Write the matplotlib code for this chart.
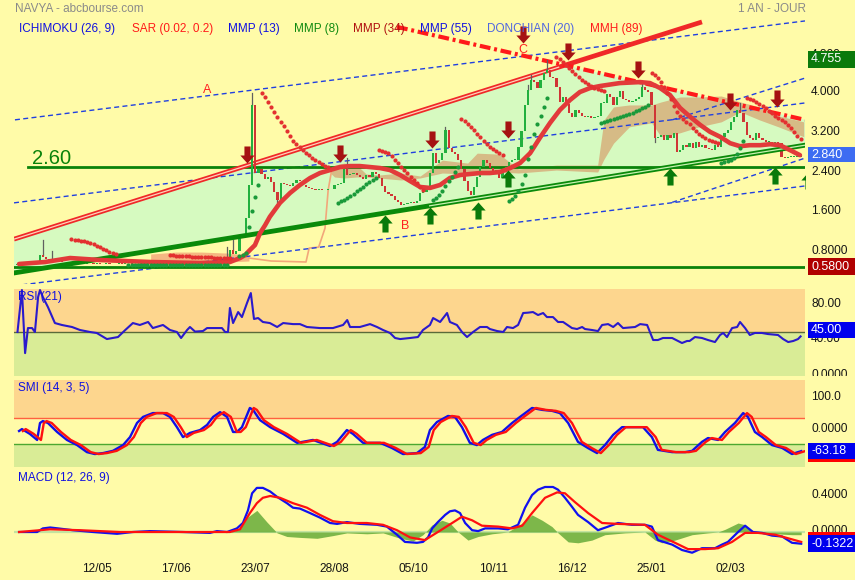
import numpy as np
import matplotlib
matplotlib.use("Agg")
import matplotlib.pyplot as plt
from matplotlib.path import Path
from matplotlib.patches import Rectangle, Polygon
from matplotlib.transforms import Bbox, ScaledTranslation, blended_transform_factory

plt.rcParams['font.family'] = ['Liberation Sans', 'DejaVu Sans']

# ---------------- data ----------------
CLOSE = [0.62, 0.64, 0.66, 0.63, 0.66, 0.68, 0.70, 0.82, 0.78, 0.74,
         0.72, 0.74, 0.71, 0.69, 0.68, 0.67, 0.68, 0.66, 0.67, 0.65,
         0.66, 0.64, 0.65, 0.66, 0.64, 0.65, 0.63, 0.64, 0.65, 0.64,
         0.63, 0.64, 0.65, 0.64, 0.65, 0.66, 0.64, 0.63, 0.64, 0.65,
         0.64, 0.63, 0.64, 0.66, 0.65, 0.64, 0.63, 0.64, 0.65, 0.66,
         0.64, 0.63, 0.64, 0.65, 0.64, 0.63, 0.64, 0.65, 0.64, 0.65,
         0.66, 0.65, 0.64, 0.66, 0.67, 0.70, 0.78, 0.92, 0.85, 0.90,
         1.16, 1.20, 1.57, 2.23, 3.84, 2.47, 2.55, 2.45, 2.35, 2.40,
         2.28, 2.09, 1.93, 2.27, 2.25, 2.23, 2.20, 2.27, 2.33, 2.30,
         2.22, 2.18, 2.17, 2.15, 2.13, 2.15, 2.12, 2.13, 2.14, 2.15,
         2.22, 2.25, 2.27, 2.55, 2.43, 2.45, 2.47, 2.43, 2.40, 2.35,
         2.43, 2.40, 2.49, 2.45, 2.37, 2.20, 2.09, 2.05, 2.00, 1.93,
         1.88, 1.83, 1.85, 1.87, 1.89, 1.87, 1.90, 2.07, 2.09, 2.15,
         2.47, 2.87, 2.67, 2.73, 2.87, 3.34, 2.97, 2.89, 2.85, 2.73,
         2.55, 2.30, 2.10, 2.03, 2.19, 2.39, 2.59, 2.73, 2.67, 2.57,
         2.47, 2.53, 2.37, 2.50, 2.59, 2.69, 2.73, 2.73, 2.99, 3.32,
         3.84, 4.14, 4.34, 4.30, 4.18, 4.34, 4.48, 4.54, 4.40, 4.38,
         4.20, 3.90, 4.00, 3.85, 3.68, 3.60, 3.74, 3.68, 3.62, 3.60,
         3.62, 3.58, 3.60, 3.62, 3.88, 3.88, 4.06, 4.00, 3.84, 4.00,
         4.12, 3.95, 3.94, 3.90, 3.92, 3.96, 4.00, 4.20, 4.14, 4.10,
         3.84, 3.18, 3.20, 3.24, 3.13, 3.24, 3.18, 3.28, 2.89, 2.93,
         3.03, 2.99, 3.07, 2.97, 3.09, 2.99, 3.03, 2.97, 2.95, 2.93,
         3.03, 2.99, 3.20, 3.28, 3.34, 3.50, 3.60, 3.74, 3.68, 3.50,
         3.24, 3.18, 3.13, 3.28, 3.18, 3.13, 3.09, 3.09, 3.07, 3.09,
         3.07, 2.80, 2.77, 2.79, 2.79, 2.79, 2.79, 2.84]
HIGH_WICKS = {8: 1.12, 11: 0.90, 66: 0.98, 68: 1.12, 74: 4.08, 104: 2.77,
              135: 3.40, 161: 4.25, 162: 4.45, 167: 4.74, 197: 4.30, 228: 3.88}
LOW_WICKS = {82: 1.89, 201: 3.10}

DATE_POS = [25, 50, 75, 100, 125, 150, 175, 200, 225]
DATE_LABELS = ['12/05', '17/06', '23/07', '28/08', '05/10', '10/11', '16/12', '25/01', '02/03']

PRICE_TICKS = [4.8, 4.0, 3.2, 2.4, 1.6, 0.8]
PRICE_TICK_LABELS = ['4.800', '4.000', '3.200', '2.400', '1.600', '0.8000']

# MMH (89) thick red curve: (bar, value)
MMH_POINTS = [(0.5, 0.64), (8.7, 0.68), (16.6, 0.76), (26, 0.72), (41.8, 0.68), (57.6, 0.66),
              (67, 0.68), (70.2, 0.76), (71.8, 0.82), (73.3, 0.92), (74.9, 1.02), (76.5, 1.26),
              (78.1, 1.42), (79.6, 1.59), (82.8, 1.87), (86, 2.07), (89.1, 2.23), (92.3, 2.37),
              (95.4, 2.47), (98.6, 2.53), (101.7, 2.59), (104.9, 2.61), (108, 2.61), (111.2, 2.59),
              (114.4, 2.57), (117.5, 2.53), (120.7, 2.43), (123.8, 2.31), (127, 2.19), (130.1, 2.17),
              (133.3, 2.23), (136.4, 2.37), (139.6, 2.43), (142.7, 2.45), (145.9, 2.47), (149, 2.47),
              (152.2, 2.49), (155.4, 2.57), (158.5, 2.67), (161.7, 2.87), (164.8, 3.18), (168, 3.48),
              (171.1, 3.74), (174.3, 3.94), (177.4, 4.10), (180.6, 4.18), (183.7, 4.22), (190, 4.28),
              (196.4, 4.30), (199.5, 4.28), (202.7, 4.18), (205.8, 4.04), (209, 3.78), (212.2, 3.60),
              (215.3, 3.44), (218.4, 3.30), (221.6, 3.20), (224.8, 3.07), (227.9, 3.01), (231, 3.03),
              (234.3, 3.03), (237.4, 3.05), (240.5, 3.03), (243.7, 2.93), (246.8, 2.83)]

# Parabolic SAR dots: (first bar, values)
SAR_RED = [
    (17, [1.14, 1.13, 1.12, 1.11, 1.10, 1.08, 1.06, 1.04, 1.01, 0.98, 0.95, 0.92, 0.89, 0.86, 0.84]),
    (48, [0.82, 0.82, 0.81, 0.81, 0.80, 0.80, 0.80, 0.79, 0.79, 0.79, 0.78, 0.78, 0.78, 0.78,
          0.77, 0.77, 0.77, 0.77, 0.76, 0.76]),
    (77, [4.08, 4.00, 3.90, 3.80, 3.70, 3.60, 3.50, 3.42, 3.32, 3.22, 3.12, 3.05, 3.00, 2.94,
          2.88, 2.83, 2.77, 2.73, 2.69, 2.65, 2.62, 2.59]),
    (114, [2.93, 2.92, 2.90, 2.87, 2.81, 2.74, 2.67, 2.60, 2.53, 2.47, 2.40, 2.33, 2.26, 2.19, 2.12]),
    (140, [3.56, 3.52, 3.46, 3.40, 3.33, 3.26, 3.19, 3.12, 3.06, 3.00, 2.95, 2.91, 2.87, 2.84]),
    (170, [4.80, 4.76, 4.70, 4.64, 4.58, 4.52, 4.46, 4.40, 4.35, 4.30, 4.26, 4.22, 4.19, 4.16,
           4.14, 4.12]),
    (200, [4.48, 4.44, 4.38, 4.30, 4.20, 4.08, 3.95, 3.82, 3.70, 3.62, 3.56, 3.50, 3.45, 3.38,
           3.32, 3.26, 3.21, 3.17, 3.14, 3.11, 3.09, 3.07]),
    (230, [3.98, 3.96, 3.93, 3.90, 3.86, 3.82, 3.77, 3.72, 3.67, 3.62, 3.58, 3.54, 3.49, 3.44,
           3.37, 3.30, 3.22, 3.15]),
]
SAR_GREEN = [
    (35, [0.61, 0.61, 0.62, 0.61, 0.61, 0.62, 0.61, 0.61, 0.62, 0.61, 0.61, 0.62, 0.61, 0.61,
          0.62, 0.61, 0.61, 0.62, 0.61, 0.61, 0.62, 0.61, 0.61, 0.62, 0.61, 0.61, 0.62, 0.61,
          0.61, 0.62, 0.61, 0.62]),
    (70, [0.80, 0.82, 0.86, 1.39, 1.71, 1.99, 2.23]),
    (101, [1.87, 1.90, 1.93, 1.97, 2.01, 2.05, 2.10, 2.14, 2.19, 2.24, 2.29, 2.33, 2.37]),
    (131, [1.93, 1.97, 2.03, 2.10, 2.20, 2.30, 2.40, 2.50, 2.60]),
    (155, [1.91, 1.95, 2.01, 2.10, 2.25, 2.43, 2.75, 3.00, 3.25, 3.45, 3.62, 3.80, 3.98]),
    (184, [3.48, 3.50, 3.52, 3.54, 3.56, 3.58, 3.60, 3.62, 3.64, 3.66, 3.68, 3.71, 3.74, 3.77,
           3.80, 3.84]),
    (222, [2.67, 2.69, 2.71, 2.73, 2.77, 2.85, 2.97, 3.12]),
]

# Ichimoku cloud
KUMO_LOW_IDX = [42, 50, 58, 66, 73]
KUMO_LOW_TOP = [0.84, 0.88, 0.88, 0.86, 0.82]
KUMO_LOW_BOT = [0.70, 0.68, 0.68, 0.68, 0.70]
SENKOU_LINE = [(73, 0.76), (80, 0.70), (91, 0.68), (92, 0.96), (95, 0.98), (97, 1.36), (98, 2.13), (99, 2.49)]
KUMO_IDX = [99, 100, 103, 107, 110, 114, 121, 127, 134, 142, 145, 152, 158, 170, 183, 185, 188,
            193, 200, 203, 209, 215, 222, 228, 234, 240, 248]
KUMO_TOP = [2.49, 2.63, 2.67, 2.63, 2.45, 2.43, 2.47, 2.41, 2.73, 2.67, 2.87, 2.85, 2.55, 2.63,
            2.63, 3.54, 3.80, 3.84, 3.84, 3.90, 4.00, 4.00, 4.02, 3.90, 3.80, 3.62, 3.50]
KUMO_BOT = [2.45, 2.39, 2.37, 2.39, 2.39, 2.37, 2.33, 2.37, 2.47, 2.45, 2.45, 2.49, 2.47, 2.53,
            2.49, 2.75, 3.07, 3.40, 3.48, 3.20, 3.28, 3.40, 3.50, 3.70, 3.54, 3.40, 3.20]

# trend lines (bar, value) endpoints
CHANNEL_TOP = [(-1.1, 1.14), (215.9, 5.51)]
CHANNEL_BOTTOM = [(-1.1, 0.46), (248.4, 3.03)]
RESISTANCE = [(119.7, 5.41), (248.4, 3.54)]
BLUE_LINES = [[(-0.8, 3.54), (248.4, 5.53)],
              [(-1.1, 1.87), (248.4, 3.88)],
              [(206.5, 3.54), (248.4, 4.38)],
              [(-1.1, 0.20), (248.4, 2.21)],
              [(206.5, 1.88), (248.4, 2.77)]]
LEVEL_HIGH = 2.60
LEVEL_LOW = 0.58

SELL_ARROWS = [(72.4, 2.67), (101.7, 2.69), (130.8, 2.97), (154.7, 3.17), (159.5, 5.09),
               (173.7, 4.74), (195.7, 4.38), (224.8, 3.74), (239.6, 3.80)]
BUY_ARROWS = [(115.9, 1.63), (130.1, 1.79), (145.3, 1.89), (154.7, 2.53), (205.8, 2.57),
              (239.0, 2.59), (249.4, 2.49)]
POINT_LABELS = [('A', 59.8, 4.14), ('B', 122.2, 1.40), ('C', 159.5, 4.95)]

RSI_POINTS = [(0, 50), (1.4, 97.7), (2.4, 26), (3.3, 54.5), (4.6, 54.5), (5.5, 50), (6.5, 89.8),
              (7.1, 97.7), (8, 89.8), (9.6, 78.4), (11.8, 60.2), (14, 58), (17.2, 55.7), (19.7, 52.3),
              (22.9, 50), (25, 48.9), (28.2, 42), (30.1, 43.2), (31.7, 44.3), (34, 52.3), (36.4, 60.2),
              (38.6, 58), (41.2, 61.4), (42.7, 54.5), (45.9, 58), (48.1, 52.3), (50.3, 50), (51.6, 43.2),
              (53.5, 52.3), (54.4, 55.7), (56, 50.5), (58.5, 51.1), (59.8, 54.5), (64.5, 54.5), (65.5, 50),
              (66.4, 50), (67, 77.3), (68, 60.2), (69.6, 72.7), (70.8, 67), (72.4, 83), (73.6, 94.3),
              (74.6, 64.8), (75.9, 65.9), (77.4, 61.4), (79.6, 60.2), (81.9, 55.7), (83.8, 60.2),
              (86.9, 59), (89.1, 59), (91.3, 55.7), (95.4, 54.5), (99.5, 54.5), (102.7, 58), (104, 63.6),
              (104.9, 55.7), (108, 55.7), (111.2, 59), (113.4, 55.7), (115.3, 52.3), (117.5, 48.9),
              (119.1, 43.2), (120.7, 42), (123.8, 43.2), (126.3, 44.3), (127.9, 52.3), (130.1, 58),
              (131.1, 65.9), (133.3, 61.4), (135.5, 71.6), (136.4, 61.4), (138.6, 58), (140.2, 50),
              (141.8, 44.3), (143.7, 50), (145.9, 55.7), (148.1, 55.7), (149, 53.4), (151.3, 51.1),
              (153.2, 50), (154.4, 55.7), (156.3, 54.5), (157.9, 58), (159.5, 71.6), (161, 72),
              (162.6, 72.7), (164.2, 69.3), (165.8, 71.6), (167, 67), (168.9, 67), (170.5, 61.4),
              (172.1, 61.4), (174.9, 54.5), (176.5, 53.4), (178.1, 55.7), (179, 53.4), (181.2, 52.3),
              (183.1, 51.1), (184.4, 58), (186.3, 59), (187.9, 55.7), (189.4, 60.2), (191, 54.5),
              (194.8, 55.7), (196.4, 59), (198.6, 58), (200.5, 40.9), (202, 40.9), (203.6, 43.2),
              (206.5, 43.2), (209.6, 37.5), (211.2, 39.8), (212, 39.8), (213.7, 44.3), (215.9, 43.2),
              (217.8, 40.9), (220, 38.6), (221.6, 46.6), (222.6, 48.9), (223.8, 44.3), (225.4, 54.5),
              (227, 55.7), (227.9, 61.4), (229.5, 54.5), (231, 46.6), (232.6, 48.9), (234.8, 48.9),
              (236.7, 47.7), (239.9, 46.6), (241.5, 42), (243.1, 38.6), (244.7, 39.8), (246.2, 42),
              (247, 45)]
RSI_LAST = 45.00

SMI_POINTS = [(0.5, 0), (1.4, 6), (3.9, -9), (6.2, -28), (7.1, 25), (8, 31), (9.6, 25), (12.5, -3),
              (15.6, -28), (18.8, -44), (21.9, -66), (24.4, -72), (27, -69), (30.1, -62), (33.3, -44),
              (35.5, -19), (37.7, 25), (39.6, 44), (42.7, 56), (45.9, 56), (48.1, 44), (50.3, 12),
              (52.2, -19), (54.4, -6), (57.6, 3), (59.8, 19), (61.7, 44), (63.9, 59), (66.1, 44),
              (68, -3), (69.2, -3), (70.8, 12), (73.3, 72), (74.3, 66), (76.5, 34), (79.7, 12),
              (83.8, -9), (88.2, -37), (93.2, -28), (98.6, -47), (100.8, -34), (103.9, 3), (105.8, -9),
              (109, -37), (114.4, -37), (118.1, -53), (121.6, -72), (126, -69), (128.5, -50), (130.1, 3),
              (132.3, 28), (135.8, 47), (138, 44), (140.2, 12), (142.7, -37), (144.9, -44), (146.8, -28),
              (149.7, -12), (152.8, -3), (156, 25), (158.5, 44), (162.3, 72), (165.5, 66), (168.6, 63),
              (171.1, 56), (173.7, 25), (176.8, -34), (179.9, -53), (182.8, -69), (185.3, -44),
              (187.9, -12), (190.7, 12), (193.8, 12), (197.3, 12), (200.1, -19), (202, -59), (206.5, -66),
              (210.6, -66), (212.8, -62), (215.9, -34), (217.8, -22), (221, -28), (223.2, -3), (226.3, 25),
              (228.9, 56), (230.4, 44), (232.6, -3), (234.9, -19), (238, -44), (241.2, -53), (244.3, -72),
              (246.2, -66), (247.2, -63)]
SMI_SIGNAL_LAG = 1.2
SMI_LAST = -63.18

MACD_POINTS = [(0.5, 0), (6.2, 0), (8, 0.04), (10.3, 0.05), (12.8, 0.04), (17.5, 0.02), (23.8, 0),
               (31.4, -0.02), (36.4, 0), (41.8, 0.01), (52.2, 0), (60.7, -0.01), (62.9, 0.01), (66.1, 0),
               (69.2, 0.04), (71.1, 0.10), (72.7, 0.24), (74, 0.43), (75.5, 0.49), (77.4, 0.49),
               (79.7, 0.45), (81.9, 0.39), (85, 0.32), (86.9, 0.27), (89.1, 0.26), (92.3, 0.21),
               (95.4, 0.16), (98.6, 0.10), (100.8, 0.09), (103.9, 0.11), (108, 0.09), (113.4, 0.08),
               (116.5, 0.06), (119.7, -0.03), (122.2, -0.11), (126, -0.12), (127.9, -0.11), (129.5, -0.06),
               (130.8, 0.04), (132.6, 0.11), (134.9, 0.19), (136.4, 0.23), (138, 0.24), (139.6, 0.21),
               (141.2, 0.10), (143.4, 0.02), (145.3, 0.01), (147.5, 0.04), (151.6, 0.04), (154.7, 0.03),
               (157.9, 0.08), (160.1, 0.27), (162.3, 0.41), (164.2, 0.47), (166.4, 0.50), (168.9, 0.50),
               (170.5, 0.47), (172.7, 0.38), (174.9, 0.28), (176.8, 0.19), (180, 0.11), (183.1, 0.02),
               (186.3, 0.06), (189.4, 0.10), (193.8, 0.08), (197.9, 0.08), (200.1, 0.06), (202, -0.09),
               (206.5, -0.14), (209.6, -0.20), (212.8, -0.23), (215.9, -0.18), (220, -0.18), (222.2, -0.14),
               (224.1, -0.11), (227, -0.01), (229.5, 0.07), (232, 0.0), (234.9, -0.01), (238, -0.04),
               (241.2, -0.05), (244.3, -0.12), (247.2, -0.13)]
MACD_SIGNAL_POINTS = [(0.5, 0), (10.3, 0.03), (19.7, 0.02), (32.3, 0), (51.3, 0), (67, 0), (70.2, 0.03),
                      (73.3, 0.21), (75.5, 0.32), (77.4, 0.38), (79.7, 0.40), (82.8, 0.38), (86.9, 0.32),
                      (91.3, 0.27), (95.4, 0.19), (99.5, 0.12), (103.9, 0.10), (110.2, 0.10), (115.3, 0.08),
                      (119.7, 0.02), (123.8, -0.06), (128.5, -0.09), (132.6, 0.0), (137.1, 0.10),
                      (140.2, 0.17), (143.4, 0.13), (146.5, 0.07), (151.6, 0.06), (156, 0.04), (159.2, 0.07),
                      (162.3, 0.21), (166.4, 0.38), (170.2, 0.44), (172.7, 0.43), (175.9, 0.33), (180, 0.21),
                      (184.4, 0.10), (189.4, 0.09), (197.9, 0.08), (202, -0.03), (207.4, -0.12),
                      (211.5, -0.19), (216.9, -0.19), (221, -0.18), (225.4, -0.11), (229.5, -0.01),
                      (233.6, -0.01), (239, -0.03), (243.1, -0.07), (247.2, -0.11)]
MACD_HIST_POINTS = [(0.5, 0), (67, 0), (70.2, 0.03), (72.4, 0.16), (75.5, 0.24), (78.7, 0.11), (81.9, -0.01),
                    (85, -0.05), (89.1, -0.06), (94.5, -0.07), (99.5, -0.04), (103.9, -0.01), (110.2, -0.02),
                    (115.3, -0.01), (120.7, -0.07), (124.8, -0.10), (127.9, -0.03), (130.8, 0.08),
                    (133.9, 0.13), (136.4, 0.10), (139, 0.0), (142.1, -0.09), (145.3, -0.05), (149.7, -0.02),
                    (154.7, 0.0), (159.2, 0.10), (162.3, 0.19), (165.5, 0.13), (168.6, 0.06), (170.5, -0.01),
                    (173.7, -0.11), (176.8, -0.12), (181.2, -0.09), (185.3, -0.03), (191.6, -0.01),
                    (197.9, 0.0), (201.1, -0.09), (203.3, -0.12), (207.4, -0.09), (212.8, -0.03),
                    (217.8, -0.01), (221, 0.0), (223.2, 0.03), (227.3, 0.10), (229.5, 0.08), (231.7, 0.0),
                    (239, -0.02), (244.3, -0.03), (247.2, -0.03)]
MACD_LAST = -0.1322

LAST_CLOSE = 2.840
DONCHIAN_HIGH = 4.755
LOWEST = 0.5800

# ---------------- figure ----------------
W, H = 855, 580
fig = plt.figure(figsize=(W / 100, H / 100), dpi=100)
BG = '#FFFBA8'
fig.patch.set_facecolor(BG)

def ax_px(x0, y0, x1, y1):
    a = fig.add_axes([x0 / W, 1 - y1 / H, (x1 - x0) / W, (y1 - y0) / H])
    a.set_axis_off()
    a.patch.set_alpha(0)
    return a

XL = (-1.1, 248.4)
ax = ax_px(14, 19, 805, 284)
ax.set_xlim(XL)
ax.set_ylim(0.2374, 5.569)

def line_at(p, x):
    (x0, y0), (x1, y1) = p
    return y0 + (y1 - y0) * (x - x0) / (x1 - x0)

# intersection of channel top and resistance
(ax0, ay0), (ax1, ay1) = CHANNEL_TOP
(bx0, by0), (bx1, by1) = RESISTANCE
sa = (ay1 - ay0) / (ax1 - ax0)
sb = (by1 - by0) / (bx1 - bx0)
xi = (by0 - ay0 + sa * ax0 - sb * bx0) / (sa - sb)
yi = ay0 + sa * (xi - ax0)
poly = [(XL[0], line_at(CHANNEL_TOP, XL[0])), (xi, yi), (XL[1], line_at(RESISTANCE, XL[1])),
        (XL[1], line_at(CHANNEL_BOTTOM, XL[1])), (XL[0], line_at(CHANNEL_BOTTOM, XL[0]))]
ax.add_patch(Polygon(poly, closed=True, facecolor='#D6FAC0', edgecolor='none', zorder=1))

# cloud
ax.fill_between(KUMO_LOW_IDX, KUMO_LOW_BOT, KUMO_LOW_TOP, color='#F4B07E', alpha=0.9, lw=0, zorder=2)
sx, sy = zip(*SENKOU_LINE)
ax.plot(sx, sy, color='#F2A77A', lw=1.2, zorder=2)
ax.fill_between(KUMO_IDX, KUMO_BOT, KUMO_TOP, color='#D7B07C', alpha=0.85, lw=0, zorder=2)

# blue dashed lines
for ln in BLUE_LINES:
    xs, ys = zip(*ln)
    ax.plot(xs, ys, color='#2040E0', lw=1.0, dashes=(3.6, 2.4), zorder=3)

# horizontal levels
ax.plot([3.3, XL[1]], [LEVEL_HIGH, LEVEL_HIGH], color='#0A820A', lw=2.0, zorder=3.5)
ax.plot([XL[0], XL[1]], [LEVEL_LOW, LEVEL_LOW], color='#0A820A', lw=2.0, zorder=3.5)
ax.text(4.6, LEVEL_HIGH, '%.2f' % LEVEL_HIGH, color='#0A820A', fontsize=14.5, va='baseline', ha='left',
        transform=ax.transData + ScaledTranslation(0, 0.03, fig.dpi_scale_trans), zorder=8)

# trend lines
xs, ys = zip(*CHANNEL_TOP)
ax.plot(xs, ys, color='#F02828', lw=3.4, solid_capstyle='butt', zorder=4)
ax.plot([XL[0], xi - 2], [line_at(CHANNEL_TOP, XL[0]), line_at(CHANNEL_TOP, xi - 2)],
        color='#FFD2B8', lw=0.9, zorder=4.1)
xs, ys = zip(*RESISTANCE)
ax.plot(xs, ys, color='#FF1A1A', lw=3.0, dashes=(2.6, 0.9, 0.7, 0.9), zorder=4)

# candles
idx = np.arange(len(CLOSE))
close = np.array(CLOSE)
opn = np.concatenate([[close[0]], close[:-1]])
up = close >= opn
lo = np.minimum(opn, close)
hgt = np.maximum(np.abs(close - opn), 0.015)
for i, hv in HIGH_WICKS.items():
    ax.plot([i, i], [max(opn[i], close[i]), hv], color='#606060', lw=0.9, zorder=4.9)
for i, lv in LOW_WICKS.items():
    ax.plot([i, i], [min(opn[i], close[i]), lv], color='#606060', lw=0.9, zorder=4.9)
ax.bar(idx[up], hgt[up], bottom=lo[up], width=0.7, color='#22B03E', lw=0, zorder=5)
ax.bar(idx[~up], hgt[~up], bottom=lo[~up], width=0.7, color='#D03535', lw=0, zorder=5)

# lower green trend line
xs, ys = zip(*CHANNEL_BOTTOM)
ax.plot(xs, ys, color='#0A8A0A', lw=3.5, zorder=5.5)
ax.plot([130, XL[1]], [line_at(CHANNEL_BOTTOM, 130), line_at(CHANNEL_BOTTOM, XL[1])],
        color='#C8F0B0', lw=0.9, zorder=5.6)

# MMH curve
mx, my = zip(*MMH_POINTS)
ax.plot(mx, my, color='#E23A3A', lw=3.3, solid_capstyle='round', zorder=6)

# SAR
for start, vals in SAR_RED:
    ax.plot(np.arange(start, start + len(vals)), vals, 'o', ms=3.0, color='#E33030', mew=0, zorder=6.5)
for start, vals in SAR_GREEN:
    ax.plot(np.arange(start, start + len(vals)), vals, 'o', ms=3.0, color='#1A9A3A', mew=0, zorder=6.5)

# arrows
dverts = [(0, 0), (0.42, 0.47), (0.18, 0.47), (0.18, 1.0), (-0.18, 1.0), (-0.18, 0.47), (-0.42, 0.47), (0, 0)]
codes = [Path.MOVETO] + [Path.LINETO] * 6 + [Path.CLOSEPOLY]
down = Path(dverts, codes)
upp = Path([(x, -y) for x, y in dverts], codes)
sx, sy = zip(*SELL_ARROWS)
ax.plot(sx, sy, ls='none', marker=down, ms=24.5, color='#A51212', mew=0, zorder=7)
bx, by = zip(*BUY_ARROWS)
ax.plot(bx, by, ls='none', marker=upp, ms=24.5, color='#0A7A0A', mew=0, zorder=7)
for lab, lx, ly in POINT_LABELS:
    ax.text(lx, ly, lab, color='#FF2020', fontsize=9, ha='center', va='center', zorder=8)

# ---------- RSI ----------
rsi = ax_px(14, 289, 805, 376)
rsi.set_xlim(XL)
rsi.set_ylim(0, 98.9)
rsi.axhspan(50, 98.9, color='#FDD68E', lw=0, zorder=0)
rsi.axhspan(0, 50, color='#D9EC96', lw=0, zorder=0)
rsi.axhline(50, color='#5A6A3A', lw=1.0, zorder=1)
rx, ry = zip(*RSI_POINTS)
rsi.plot(rx, ry, color='#2A1ACC', lw=1.5, zorder=3)

# ---------- SMI ----------
smi = ax_px(14, 380, 805, 467)
smi.set_xlim(XL)
smi.set_ylim(-112.5, 159.4)
smi.axhspan(40, 159.4, color='#FDD68E', lw=0, zorder=0)
smi.axhspan(-112.5, -40, color='#D9EC96', lw=0, zorder=0)
smi.axhline(40, color='#FF6040', lw=1.0, zorder=1)
smi.axhline(-40, color='#4CA830', lw=1.0, zorder=1)
qx, qy = zip(*SMI_POINTS)
smi.plot(qx, qy, color='#1010E8', lw=1.7, zorder=3)
smi.plot(np.array(qx) + SMI_SIGNAL_LAG, qy, color='#FF1010', lw=1.7, zorder=4)

# ---------- MACD ----------
mac = ax_px(14, 467, 805, 560)
mac.set_xlim(XL)
mac.set_ylim(-0.311, 0.722)
mac.axhline(0, color='#C4E3A0', lw=1.6, zorder=1)
hx, hy = zip(*MACD_HIST_POINTS)
mac.fill_between(hx, 0, hy, color='#6FB040', alpha=0.9, lw=0, zorder=2)
gx, gy = zip(*MACD_POINTS)
mac.plot(gx, gy, color='#1010F0', lw=1.6, zorder=3)
kx, ky = zip(*MACD_SIGNAL_POINTS)
mac.plot(kx, ky, color='#FF1010', lw=1.6, zorder=4)

# ---------- texts ----------
def right_label(a, val, text, dy_px=0, clip=None):
    tr = blended_transform_factory(fig.transFigure, a.transData) + \
        ScaledTranslation(0, dy_px / 100, fig.dpi_scale_trans)
    t = fig.text(811 / W, val, text, transform=tr, fontsize=8.6, color='#151515', va='center', ha='left')
    if clip is not None:
        t.set_clip_box(Bbox.from_extents(*clip))
        t.set_clip_on(True)
    return t

for v, lab in zip(PRICE_TICKS, PRICE_TICK_LABELS):
    right_label(ax, v, lab, dy_px=2 if v > 4.5 else 5)
for v, lab in [(80, '80.00'), (40, '40.00'), (0, '0.0000')]:
    right_label(rsi, v, lab, dy_px=1.5, clip=(805, H - 376, 855, H - 289) if v == 0 else None)
for v, lab in [(100, '100.0'), (0, '0.0000')]:
    right_label(smi, v, lab, dy_px=2)
for v, lab in [(0.4, '0.4000'), (0.0, '0.0000')]:
    right_label(mac, v, lab, dy_px=1)

def value_box(a, val, text, fc, h=16, dy_px=0, strip=None):
    yd = a.transData.transform((0, val))[1] + dy_px
    fig.add_artist(Rectangle((808 / W, (yd - h / 2) / H), 47 / W, h / H, transform=fig.transFigure,
                             facecolor=fc, edgecolor='none', zorder=10))
    if strip is not None:
        sy0 = yd - h / 2 - 3 if strip == 'below' else yd + h / 2
        fig.add_artist(Rectangle((808 / W, sy0 / H), 47 / W, 3 / H, transform=fig.transFigure,
                                 facecolor='#FF0000', edgecolor='none', zorder=10))
    fig.text(811 / W, yd / H, text, color='white', fontsize=9, va='center', ha='left', zorder=11)

value_box(ax, DONCHIAN_HIGH, '%.3f' % DONCHIAN_HIGH, '#0B7A0B', h=17)
value_box(ax, LAST_CLOSE, '%.3f' % LAST_CLOSE, '#3D6CF2', h=15)
value_box(ax, LOWEST, '%.4f' % LOWEST, '#B00000', h=17)
value_box(rsi, RSI_LAST, '%.2f' % RSI_LAST, '#0000EE', h=16, dy_px=6)
value_box(smi, SMI_LAST, '%.2f' % SMI_LAST, '#0000EE', h=16, strip='below')
value_box(mac, MACD_LAST, '%.4f' % MACD_LAST, '#0000EE', h=17, strip='above')

for p, lab in zip(DATE_POS, DATE_LABELS):
    x = 17.5 + 3.17 * p
    fig.text(x / W, 1 - 569 / H, lab, fontsize=8.6, color='#151515', ha='center', va='center')

fig.text(15 / W, 1 - 9 / H, 'NAVYA - abcbourse.com', fontsize=8.5, color='#8A8A8A', va='center', ha='left')
fig.text(738 / W, 1 - 9 / H, '1 AN - JOUR', fontsize=8.5, color='#8A8A8A', va='center', ha='left')

legend = [('ICHIMOKU (26, 9)', 19, '#1010E0'), ('SAR (0.02, 0.2)', 132, '#FF1A1A'),
          ('MMP (13)', 228, '#1010E0'), ('MMP (8)', 294, '#108A10'), ('MMP (34)', 353, '#B01010'),
          ('MMP (55)', 420, '#1010E0'), ('DONCHIAN (20)', 487, '#5066E0'), ('MMH (89)', 590, '#FF1A1A')]
for txt, x, c in legend:
    fig.text(x / W, 1 - 29 / H, txt, fontsize=8.5, color=c, va='center', ha='left', zorder=12)

fig.text(18 / W, 1 - 297 / H, 'RSI (21)', fontsize=8.5, color='#1010E0', va='center', ha='left', zorder=12)
fig.text(18 / W, 1 - 388 / H, 'SMI (14, 3, 5)', fontsize=8.5, color='#1010E0', va='center', ha='left', zorder=12)
fig.text(18 / W, 1 - 478 / H, 'MACD (12, 26, 9)', fontsize=8.5, color='#1010E0', va='center', ha='left', zorder=12)

fig.savefig('out.png', dpi=100, facecolor=BG)
